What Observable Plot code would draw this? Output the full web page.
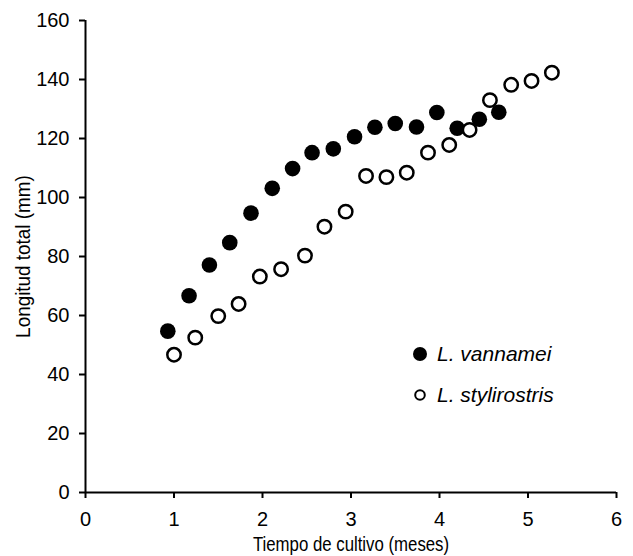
<!DOCTYPE html>
<html>
<head>
<meta charset="utf-8">
<script src="https://cdn.jsdelivr.net/npm/d3@7"></script>
<script src="https://cdn.jsdelivr.net/npm/@observablehq/plot@0.6"></script>
<style>
  html, body { margin: 0; padding: 0; background: #fff; }
  #wrap { position: relative; width: 633px; height: 556px; font-family: "Liberation Sans", Arial, sans-serif; }
  #legend { position: absolute; left: 411px; top: 333px; font-style: italic; font-size: 21px; color: #000; }
  #legend div { display: flex; align-items: center; height: 41px; }
  #legend svg { margin-right: 8px; }
</style>
</head>
<body>
<div id="wrap"></div>
<script>
// Series: L. vannamei (filled)
const vannameiX = [0.93, 1.17, 1.40, 1.63, 1.87, 2.11, 2.34, 2.56, 2.80, 3.04, 3.27, 3.50, 3.74, 3.97, 4.20, 4.45, 4.67];
const vannameiY = [54.7, 66.7, 77.1, 84.7, 94.7, 103.1, 109.8, 115.2, 116.5, 120.6, 123.8, 125.1, 123.9, 128.8, 123.5, 126.5, 128.9];
// Series: L. stylirostris (open)
const stylirostrisX = [1.00, 1.24, 1.50, 1.73, 1.97, 2.21, 2.48, 2.70, 2.94, 3.17, 3.40, 3.63, 3.87, 4.11, 4.34, 4.57, 4.81, 5.04, 5.27];
const stylirostrisY = [46.7, 52.5, 59.8, 63.9, 73.2, 75.7, 80.3, 90.1, 95.2, 107.3, 106.9, 108.4, 115.2, 117.8, 122.9, 133.0, 138.2, 139.5, 142.3];
const xTicks = [0, 1, 2, 3, 4, 5, 6];
const yTicks = [0, 20, 40, 60, 80, 100, 120, 140, 160];
const seriesNames = ["L. vannamei", "L. stylirostris"];
const xLabel = "Tiempo de cultivo (meses)";
const yLabel = "Longitud total (mm)";

const vannamei = vannameiX.map((x, i) => ({x, y: vannameiY[i]}));
const stylirostris = stylirostrisX.map((x, i) => ({x, y: stylirostrisY[i]}));

const FONT = '"Liberation Sans", Arial, sans-serif';
const chart = Plot.plot({
  width: 633,
  height: 556,
  marginLeft: 85,
  marginRight: 17,
  marginTop: 20,
  marginBottom: 64,
  style: {fontFamily: FONT, fontSize: "20px", color: "#000", background: "#fff"},
  x: {domain: [0, 6]},
  y: {domain: [0, 160]},
  marks: [
    Plot.axisX({ticks: xTicks, tickFormat: "d", tickSize: 6, tickPadding: 13, strokeWidth: 2, label: xLabel, labelAnchor: "center", labelArrow: "none", labelOffset: 58, fontSize: 20}),
    Plot.axisY({ticks: yTicks, tickFormat: "d", tickSize: 6, tickPadding: 10, strokeWidth: 2, label: yLabel, labelAnchor: "center", labelArrow: "none", labelOffset: 70, fontSize: 20}),
    Plot.ruleX([0], {stroke: "#000", strokeWidth: 2}),
    Plot.ruleY([0], {stroke: "#000", strokeWidth: 2}),
    Plot.dot(vannamei, {x: "x", y: "y", r: 7.8, fill: "#000", stroke: "none"}),
    Plot.dot(stylirostris, {x: "x", y: "y", r: 6.7, fill: "#fff", stroke: "#000", strokeWidth: 2.5})
  ]
});
// condensed axis titles
chart.querySelectorAll('[aria-label="x-axis label"] text').forEach(t => {
  t.style.fontSize = "21px";
  t.setAttribute("transform", (t.getAttribute("transform") || "") + " scale(0.8,1)");
});
chart.querySelectorAll('[aria-label="y-axis label"] text').forEach(t => {
  t.style.fontSize = "21px";
  t.setAttribute("transform", (t.getAttribute("transform") || "") + " scale(0.9,1)");
});
const wrap = document.getElementById("wrap");
wrap.appendChild(chart);

const legend = document.createElement("div");
legend.id = "legend";
legend.innerHTML =
  `<div><svg width="18" height="18"><circle cx="9" cy="9" r="7" fill="#000"/></svg><span>${seriesNames[0]}</span></div>` +
  `<div><svg width="18" height="18"><circle cx="9" cy="9" r="4.8" fill="#fff" stroke="#000" stroke-width="2"/></svg><span>${seriesNames[1]}</span></div>`;
wrap.appendChild(legend);
</script>
</body>
</html>
